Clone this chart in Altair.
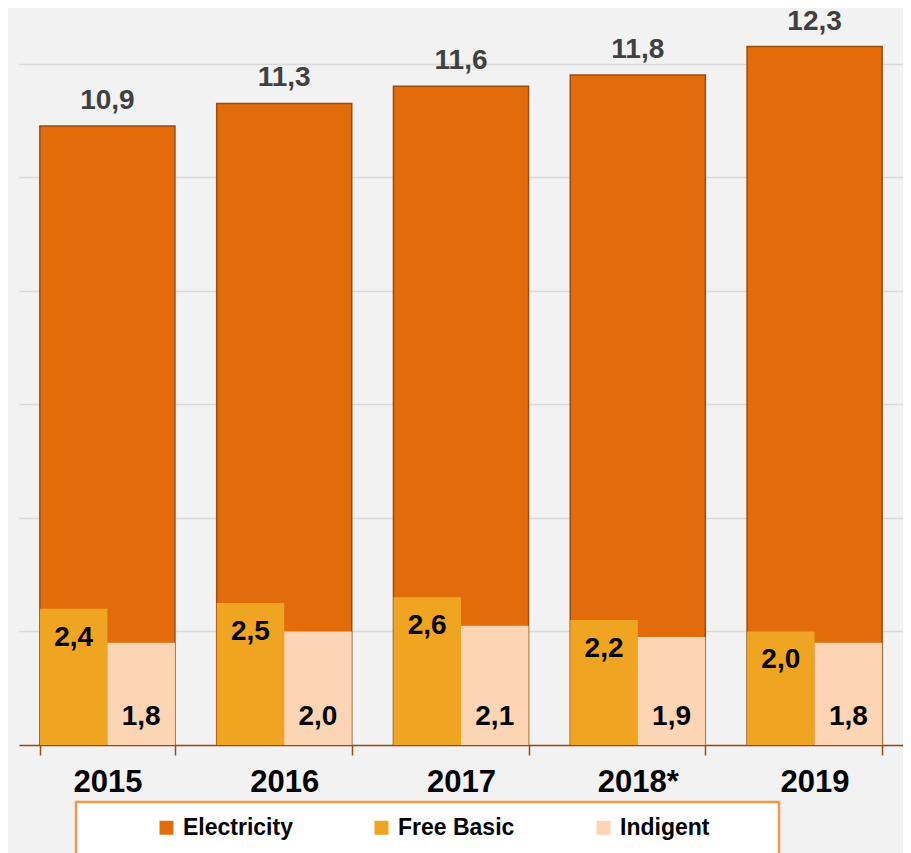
import altair as alt
import pandas as pd

years = ["2015", "2016", "2017", "2018*", "2019"]
electricity = [10.9, 11.3, 11.6, 11.8, 12.3]
free_basic = [2.4, 2.5, 2.6, 2.2, 2.0]
indigent = [1.8, 2.0, 2.1, 1.9, 1.8]
series_names = ["Electricity", "Free Basic", "Indigent"]
series_colors = ["#E36C0A", "#EFA422", "#FCD5B5"]

rows = []
for name, vals in zip(series_names, [electricity, free_basic, indigent]):
    for y, v in zip(years, vals):
        rows.append({"year": y, "series": name, "value": v,
                     "label": f"{v:.1f}".replace(".", ",")})
df = pd.DataFrame(rows)

FONT = "Liberation Sans"
BROWN = "#9C4A0E"

x_enc = alt.X("year:N", sort=years, title=None,
              scale=alt.Scale(paddingInner=0.236, paddingOuter=0.118),
              axis=alt.Axis(labelFontSize=31, labelFontWeight="bold", labelColor="#000000",
                            labelFont=FONT, labelAngle=0, labelPadding=12,
                            domainColor=BROWN, domainWidth=1.5,
                            tickColor=BROWN, tickWidth=1.5, tickSize=10,
                            tickBand="extent", grid=False))
y_enc = alt.Y("value:Q", title=None,
              scale=alt.Scale(domain=[0, 12.98], nice=False, zero=True),
              axis=alt.Axis(values=[0, 2, 4, 6, 8, 10, 12], labels=False, ticks=False,
                            domain=False, grid=True, gridColor="#D9D9D9", gridWidth=1.5))
color_enc = alt.Color("series:N", title=None,
                      scale=alt.Scale(domain=series_names, range=series_colors),
                      legend=alt.Legend(orient="none", legendX=136, legendY=808,
                                        direction="horizontal", symbolType="square",
                                        symbolSize=196, symbolStrokeWidth=0,
                                        labelFont=FONT, labelFontSize=23, labelFontWeight="bold",
                                        labelColor="#000000", labelOffset=5,
                                        columnPadding=77, padding=0))

base = alt.Chart(df)
elec = base.transform_filter(alt.datum.series == "Electricity")
subs = base.transform_filter(alt.datum.series != "Electricity")

box = alt.Chart(pd.DataFrame({"a": [0]})).mark_rect(
    fill="#FFFFFF", stroke="#F79646", strokeWidth=2.5
).encode(x=alt.value(57), x2=alt.value(760), y=alt.value(794), y2=alt.value(880))

elec_bar = elec.mark_bar(stroke=BROWN, strokeWidth=1.5).encode(
    x=x_enc, y=y_enc, color=color_enc)

sub_bar = subs.mark_bar().encode(
    x=alt.X("year:N", sort=years),
    xOffset=alt.XOffset("series:N", sort=["Free Basic", "Indigent"]),
    y="value:Q", color=alt.Color("series:N"))

top_text = elec.mark_text(font=FONT, fontSize=28, fontWeight="bold", color="#404040",
                          baseline="alphabetic", dy=-17).encode(
    x=alt.X("year:N", sort=years), y="value:Q", text="label:N")

fb_text = base.transform_filter(alt.datum.series == "Free Basic").mark_text(
    font=FONT, fontSize=28, fontWeight="bold", color="#000000", baseline="middle", dy=29
).encode(x=alt.X("year:N", sort=years),
         xOffset=alt.XOffset("series:N", sort=["Free Basic", "Indigent"],
                             scale=alt.Scale(domain=["Free Basic", "Indigent"])),
         y="value:Q", text="label:N")

ind_text = base.transform_filter(alt.datum.series == "Indigent").mark_text(
    font=FONT, fontSize=28, fontWeight="bold", color="#000000", baseline="middle", dy=-28
).encode(x=alt.X("year:N", sort=years),
         xOffset=alt.XOffset("series:N", sort=["Free Basic", "Indigent"],
                             scale=alt.Scale(domain=["Free Basic", "Indigent"])),
         y=alt.datum(0), text="label:N")

chart = alt.layer(box, elec_bar, sub_bar, top_text, fb_text, ind_text).properties(
    width=884, height=737,
    autosize=alt.AutoSizeParams(type="none"),
    padding={"left": 11, "top": 0, "right": 0, "bottom": 130},
    background="#F2F2F2",
).configure_view(stroke=None)

chart.save("out.html", embed_options={"renderer": "svg", "actions": False})
